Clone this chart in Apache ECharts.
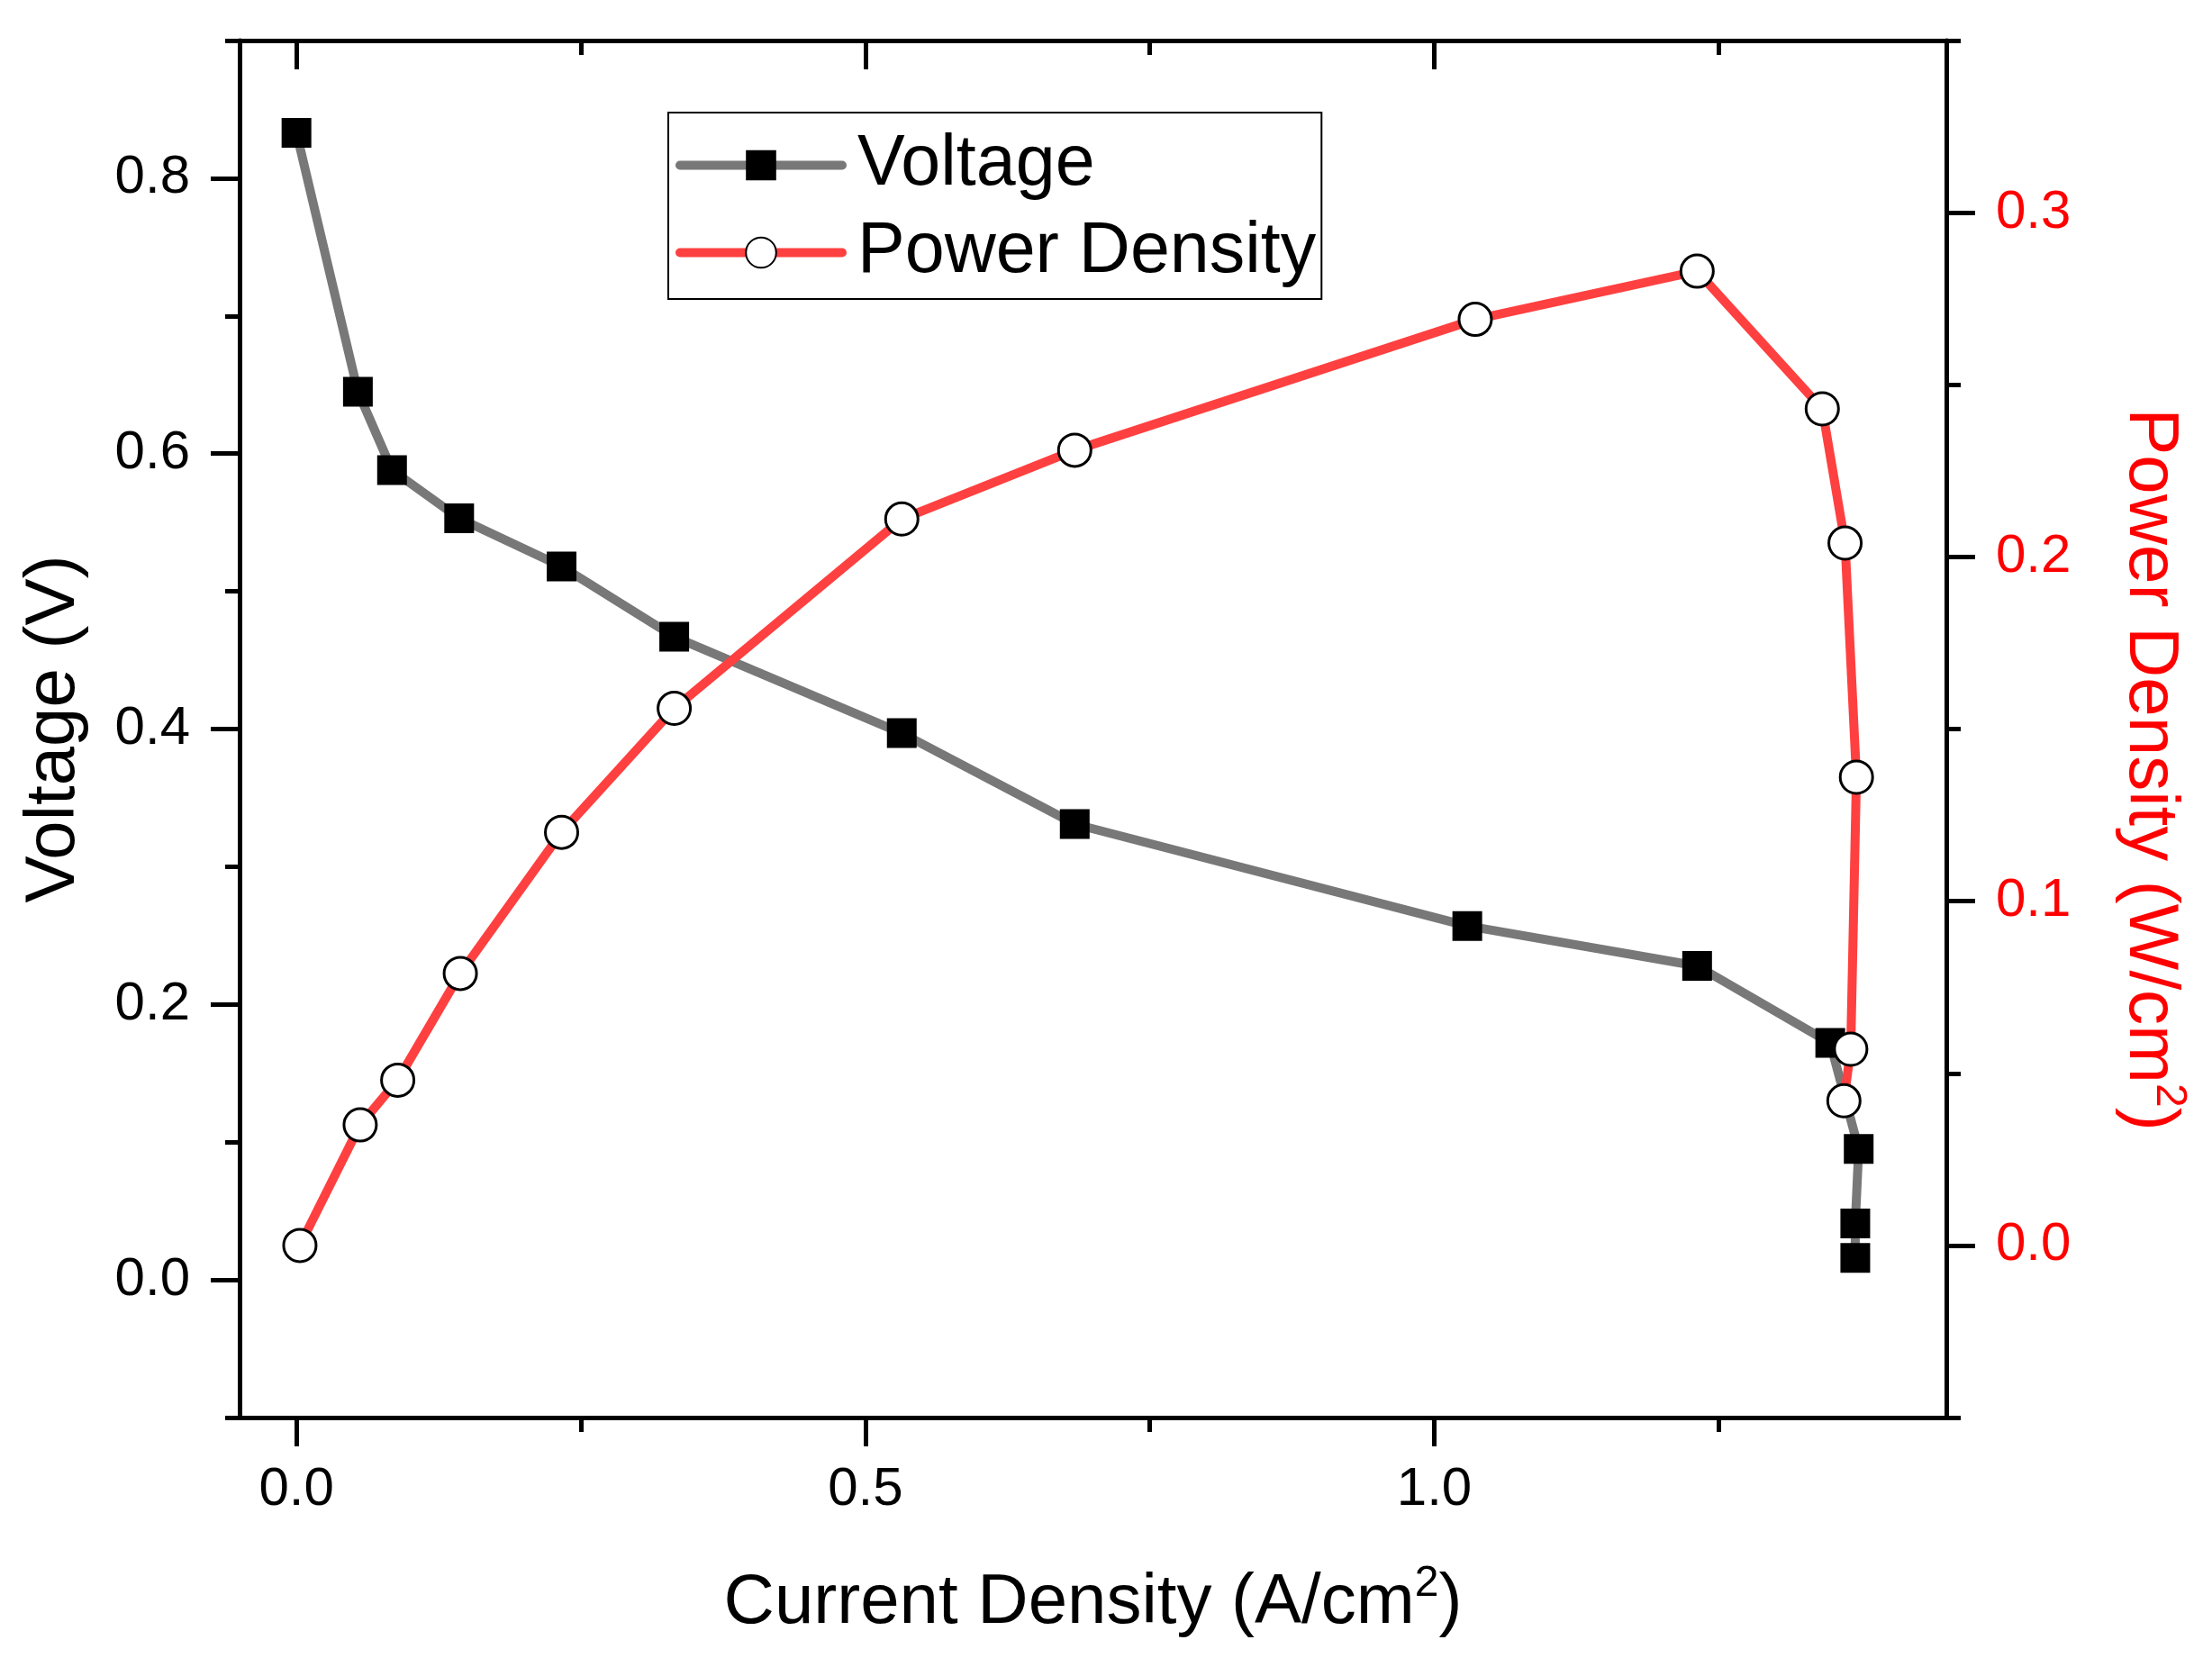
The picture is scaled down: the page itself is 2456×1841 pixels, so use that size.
<!DOCTYPE html>
<html>
<head>
<meta charset="utf-8">
<script src="https://cdn.jsdelivr.net/npm/echarts@6.0.0/dist/echarts.min.js"></script>
<style>
    body { margin: 0; background: #fff; }
    #chart { width: 2456px; height: 1841px; }
</style>
</head>
<body>
<div id="chart"></div>
<script>
// values
var currentV = [0.000, 0.054, 0.084, 0.143, 0.233, 0.332, 0.532, 0.684, 1.029, 1.231, 1.348, 1.373, 1.370, 1.370];
var voltage  = [0.833, 0.645, 0.588, 0.553, 0.518, 0.467, 0.397, 0.331, 0.257, 0.228, 0.172, 0.095, 0.041, 0.016];

var currentP = [0.003, 0.056, 0.089, 0.144, 0.233, 0.332, 0.532, 0.684, 1.036, 1.231, 1.341, 1.361, 1.371, 1.366, 1.360];
var power    = [0.000, 0.035, 0.048, 0.079, 0.120, 0.156, 0.211, 0.231, 0.269, 0.283, 0.243, 0.204, 0.136, 0.057, 0.042];

var xMajor = [0, 0.5, 1.0];
var xMinor = [0.25, 0.75, 1.25];
var vMajor = [0, 0.2, 0.4, 0.6, 0.8];
var vMinor = [-0.1, 0.1, 0.3, 0.5, 0.7, 0.9];
var pMajor = [0, 0.1, 0.2, 0.3];
var pMinor = [-0.05, 0.05, 0.15, 0.25, 0.35];

var font = 'Liberation Sans, Arial, sans-serif';

function pairs(xs, ys) {
    var out = [];
    for (var i = 0; i < xs.length; i++) {
        out.push([xs[i], ys[i]]);
    }
    return out;
}

function fmt(v) {
    return v.toFixed(1);
}

// one axis per tick family, majors long / minors short
function xAx(pos, ticks, len, inside, line, label) {
    var a = {
        type: 'value',
        position: pos,
        min: -0.05,
        max: 1.45,
        splitLine: {show: false},
        axisLine: {show: line, onZero: false, lineStyle: {color: '#000', width: 5}},
        axisTick: {show: true, inside: inside, length: len, customValues: ticks,
            lineStyle: {color: '#000', width: 5}},
        axisLabel: {show: false}
    };
    if (label) {
        a.axisLabel = {show: true, customValues: ticks, formatter: fmt, margin: 50,
            fontSize: 60, color: '#000', fontFamily: font};
    }
    return a;
}

function yAx(pos, min, max, ticks, len, line, label, color) {
    var a = {
        type: 'value',
        position: pos,
        min: min,
        max: max,
        splitLine: {show: false},
        axisLine: {show: line, onZero: false, lineStyle: {color: '#000', width: 5}},
        axisTick: {show: true, length: len, customValues: ticks,
            lineStyle: {color: '#000', width: 5}},
        axisLabel: {show: false}
    };
    if (label) {
        a.axisLabel = {show: true, customValues: ticks, formatter: fmt, margin: 55,
            fontSize: 60, color: color, fontFamily: font};
    }
    return a;
}

function titleStyle(color) {
    return {
        fontSize: 78, color: color, fontFamily: font, lineHeight: 90,
        rich: {sup: {fontSize: 48, lineHeight: 48, verticalAlign: 'top', color: color, fontFamily: font}}
    };
}

var chart = echarts.init(document.getElementById('chart'));

var xBottom = xAx('bottom', xMajor, 32, false, true, true);
xBottom.name = 'Current Density (A/cm{sup|2})';
xBottom.nameLocation = 'middle';
xBottom.nameGap = 161;
xBottom.nameTextStyle = titleStyle('#000');

var yLeft = yAx('left', -0.1, 0.9, vMajor, 32, true, true, '#000');
yLeft.name = 'Voltage (V)';
yLeft.nameLocation = 'middle';
yLeft.nameGap = 161;
yLeft.nameTextStyle = titleStyle('#000');

var yRight = yAx('right', -0.05, 0.35, pMajor, 32, true, true, '#ff0000');
yRight.name = 'Power Density (W/cm{sup|2})';
yRight.nameLocation = 'middle';
yRight.nameRotate = -90;
yRight.nameGap = 181;
yRight.nameTextStyle = titleStyle('#ff0000');
yRight.nameTextStyle.padding = [0, 0, 0, 90];

var option = {
    animation: false,
    backgroundColor: '#fff',
    grid: {left: 266, right: 295, top: 45, bottom: 267},
    legend: {
        left: 742,
        top: 125,
        orient: 'vertical',
        itemWidth: 180,
        itemHeight: 42,
        itemGap: 18,
        padding: [19, 6, 12, 8],
        borderColor: '#000',
        borderWidth: 2,
        lineStyle: {width: 10, cap: 'round'},
        textStyle: {fontSize: 79, color: '#000', fontFamily: font, padding: [0, 0, 0, 12]},
        data: ['Voltage', 'Power Density']
    },
    xAxis: [
        xBottom,
        xAx('bottom', xMinor, 16, false, false, false),
        xAx('top', xMajor, 32, true, true, false),
        xAx('top', xMinor, 16, true, false, false)
    ],
    yAxis: [
        yLeft,
        yRight,
        yAx('left', -0.1, 0.9, vMinor, 16, false, false),
        yAx('right', -0.05, 0.35, pMinor, 16, false, false)
    ],
    series: [
        {
            name: 'Voltage',
            type: 'line',
            xAxisIndex: 0,
            yAxisIndex: 0,
            data: pairs(currentV, voltage),
            symbol: 'rect',
            symbolSize: 33,
            showAllSymbol: true,
            lineStyle: {color: '#787878', width: 10, cap: 'round', join: 'round'},
            itemStyle: {color: '#000', borderWidth: 0}
        },
        {
            name: 'Power Density',
            type: 'line',
            xAxisIndex: 0,
            yAxisIndex: 1,
            data: pairs(currentP, power),
            symbol: 'circle',
            symbolSize: 36,
            showAllSymbol: true,
            lineStyle: {color: '#ff4040', width: 10, cap: 'round', join: 'round'},
            itemStyle: {color: '#fff', borderColor: '#000', borderWidth: 3}
        }
    ]
};

chart.setOption(option);
</script>
</body>
</html>
